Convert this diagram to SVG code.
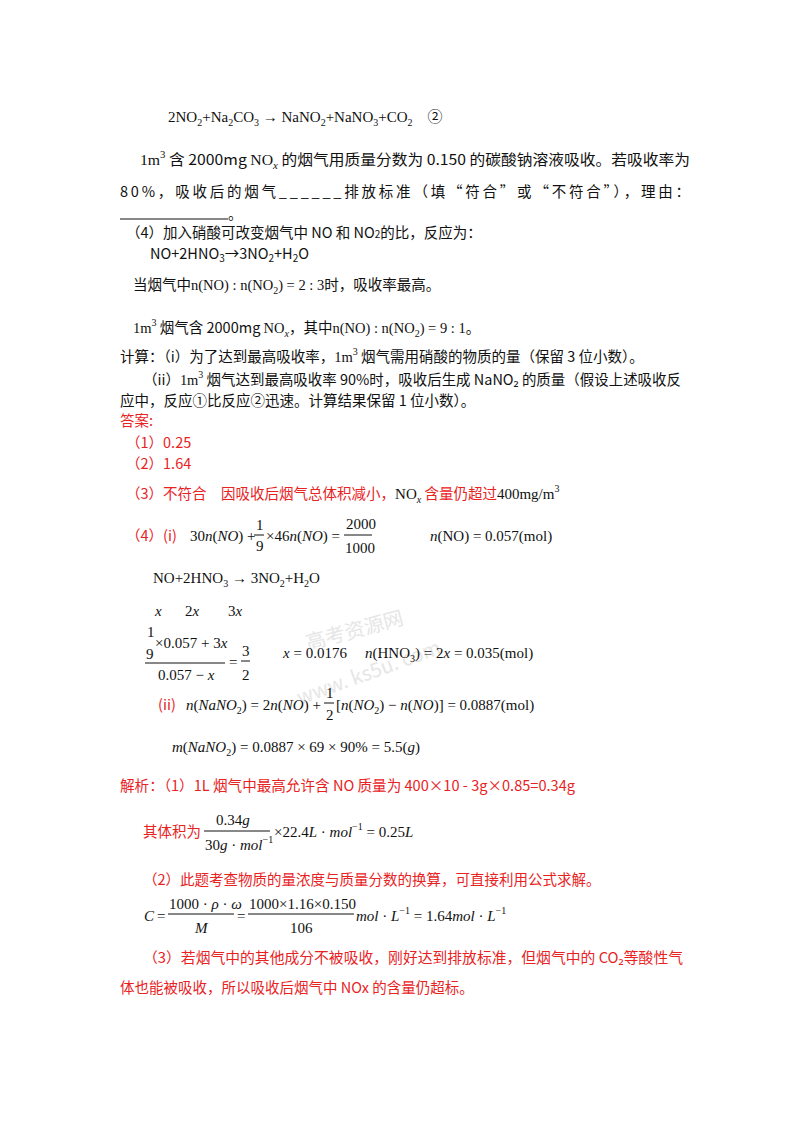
<svg xmlns="http://www.w3.org/2000/svg" width="800" height="1132" viewBox="0 0 800 1132">
<style>
.c{font-family:"Noto Sans CJK SC","Noto Sans",sans-serif;font-size:14.5px;fill:#111}
.r{font-family:"Noto Sans CJK SC","Noto Sans",sans-serif;font-size:14.5px;fill:#e8231f}
.m{font-family:"Liberation Serif",serif;font-size:15px;fill:#111}
.ms{font-family:"Liberation Serif",serif;fill:#111}
.i{font-style:italic}
.s{font-size:10px}
.w{font-family:"Noto Sans CJK SC",sans-serif;font-size:20px;fill:#e6e6e6}
line{stroke:#111;stroke-width:1}
</style>
<rect width="800" height="1132" fill="#fff"/>
<g id="watermark">
<text class="w" x="308" y="650" transform="rotate(-15 308 650)">高考资源网</text>
<text class="w" x="300" y="705" transform="rotate(-20 300 705)" font-family="Liberation Sans,sans-serif">www. ks5u. com</text>
</g>
<g id="question">
<text class="m" x="168" y="122">2NO<tspan class="s" dy="4">2</tspan><tspan dy="-4">+Na</tspan><tspan class="s" dy="4">2</tspan><tspan dy="-4">CO</tspan><tspan class="s" dy="4">3</tspan><tspan dy="-4"> → NaNO</tspan><tspan class="s" dy="4">2</tspan><tspan dy="-4">+NaNO</tspan><tspan class="s" dy="4">3</tspan><tspan dy="-4">+CO</tspan><tspan class="s" dy="4">2</tspan><tspan dy="-4" font-family="Noto Sans CJK SC,sans-serif">　②</tspan></text>
<text class="c" x="140" y="165" textLength="550" lengthAdjust="spacingAndGlyphs"><tspan class="ms">1m</tspan><tspan class="ms s" dy="-7">3</tspan><tspan dy="7"> 含 2000mg </tspan><tspan class="ms">NO</tspan><tspan class="ms s i" dy="4">x</tspan><tspan dy="-4"> 的烟气用质量分数为 0.150 的碳酸钠溶液吸收。若吸收率为</tspan></text>
<text class="c" x="120" y="197" textLength="570" lengthAdjust="spacing">80%，吸收后的烟气______排放标准（填“符合”或“不符合”），理由：</text>
<line x1="120" y1="219" x2="228" y2="219"/>
<text class="c" x="228" y="219">。</text>
<text class="c" x="126" y="238">（4）加入硝酸可改变烟气中 NO 和 NO<tspan class="s">2</tspan>的比，反应为：</text>
<text class="c" x="150" y="259">NO+2HNO<tspan class="s" dy="3">3</tspan><tspan dy="-3">→3NO</tspan><tspan class="s" dy="3">2</tspan><tspan dy="-3">+H</tspan><tspan class="s" dy="3">2</tspan><tspan dy="-3">O</tspan></text>
<text class="c" x="133" y="290">当烟气中<tspan class="ms">n(NO) : n(NO</tspan><tspan class="ms s" dy="4">2</tspan><tspan class="ms" dy="-4">) = 2 : 3</tspan>时，吸收率最高。</text>
<text class="c" x="133" y="333"><tspan class="ms">1m</tspan><tspan class="ms s" dy="-7">3</tspan><tspan dy="7"> 烟气含 2000mg </tspan><tspan class="ms">NO</tspan><tspan class="ms s i" dy="4">x</tspan><tspan dy="-4">，其中</tspan><tspan class="ms">n(NO) : n(NO</tspan><tspan class="ms s" dy="4">2</tspan><tspan class="ms" dy="-4">) = 9 : 1</tspan>。</text>
<text class="c" x="120" y="362">计算：（i）为了达到最高吸收率，<tspan class="ms">1m</tspan><tspan class="ms s" dy="-7">3</tspan><tspan dy="7"> 烟气需用硝酸的物质的量（保留 3 位小数）。</tspan></text>
<text class="c" x="143" y="385" textLength="538" lengthAdjust="spacingAndGlyphs">（ii）<tspan class="ms">1m</tspan><tspan class="ms s" dy="-7">3</tspan><tspan dy="7"> 烟气达到最高吸收率 90%时，吸收后生成 NaNO₂ 的质量（假设上述吸收反</tspan></text>
<text class="c" x="120" y="406">应中，反应①比反应②迅速。计算结果保留 1 位小数）。</text>
</g>
<g id="answer">
<text class="r" x="120" y="426">答案:</text>
<text class="r" x="126" y="448">（1）0.25</text>
<text class="r" x="126" y="469">（2）1.64</text>
<text class="r" x="126" y="499">（3）不符合　因吸收后烟气总体积减小，<tspan class="ms" font-size="15">NO</tspan><tspan class="ms s i" dy="4">x</tspan><tspan dy="-4"> 含量仍超过</tspan><tspan class="ms" font-size="15">400mg/m</tspan><tspan class="ms s" dy="-7">3</tspan></text>
<text class="r" x="126" y="541">（4）</text>
<text class="r" x="163" y="541">(i)</text>
<text class="m" x="190" y="541">30<tspan class="i">n</tspan>(<tspan class="i">NO</tspan>) +</text>
<text class="m" x="256" y="530">1</text><line x1="254" y1="535" x2="264" y2="535"/><text class="m" x="256" y="551">9</text>
<text class="m" x="266" y="541">×46<tspan class="i">n</tspan>(<tspan class="i">NO</tspan>) =</text>
<text class="m" x="346" y="529">2000</text><line x1="344" y1="535" x2="372" y2="535"/><text class="m" x="345" y="553">1000</text>
<text class="m" x="430" y="541"><tspan class="i">n</tspan>(NO) = 0.057(mol)</text>
<text class="m" x="153" y="583">NO+2HNO<tspan class="s" dy="4">3</tspan><tspan dy="-4"> → 3NO</tspan><tspan class="s" dy="4">2</tspan><tspan dy="-4">+H</tspan><tspan class="s" dy="4">2</tspan><tspan dy="-4">O</tspan></text>
<text class="m i" x="155" y="616">x</text><text class="m" x="185" y="616">2<tspan class="i">x</tspan></text><text class="m" x="228" y="616">3<tspan class="i">x</tspan></text>
<text class="m" x="147" y="637">1</text>
<text class="m" x="155" y="648">×0.057 + 3<tspan class="i">x</tspan></text>
<text class="m" x="146" y="659">9</text>
<line x1="145" y1="663" x2="225" y2="663"/>
<text class="m" x="158" y="680">0.057 − <tspan class="i">x</tspan></text>
<text class="m" x="229" y="667">=</text>
<text class="m" x="242" y="656">3</text><line x1="241" y1="661" x2="250" y2="661"/><text class="m" x="242" y="680">2</text>
<text class="m" x="283" y="658"><tspan class="i">x</tspan> = 0.0176</text>
<text class="m" x="365" y="658"><tspan class="i">n</tspan>(HNO<tspan class="s" dy="4">3</tspan><tspan dy="-4">) = 2</tspan><tspan class="i">x</tspan> = 0.035(mol)</text>
<text class="r" x="158" y="710">(ii)</text>
<text class="m" x="186" y="710"><tspan class="i">n</tspan>(<tspan class="i">NaNO</tspan><tspan class="s" dy="4">2</tspan><tspan dy="-4">) = 2</tspan><tspan class="i">n</tspan>(<tspan class="i">NO</tspan>) +</text>
<text class="m" x="326" y="698">1</text><line x1="324" y1="703" x2="334" y2="703"/><text class="m" x="326" y="720">2</text>
<text class="m" x="336" y="710">[<tspan class="i">n</tspan>(<tspan class="i">NO</tspan><tspan class="s" dy="4">2</tspan><tspan dy="-4">) − </tspan><tspan class="i">n</tspan>(<tspan class="i">NO</tspan>)] = 0.0887(mol)</text>
<text class="m" x="172" y="752"><tspan class="i">m</tspan>(<tspan class="i">NaNO</tspan><tspan class="s" dy="4">2</tspan><tspan dy="-4">) = 0.0887 × 69 × 90% = 5.5(</tspan><tspan class="i">g</tspan>)</text>
</g>
<g id="analysis">
<text class="r" x="120" y="791" textLength="455" lengthAdjust="spacingAndGlyphs">解析：（1）1L 烟气中最高允许含 NO 质量为 400×10 - 3g×0.85=0.34g</text>
<text class="r" x="143" y="837">其体积为</text>
<text class="m" x="216" y="825">0.34<tspan class="i">g</tspan></text>
<line x1="204" y1="831" x2="270" y2="831"/>
<text class="m" x="205" y="850">30<tspan class="i">g</tspan> · <tspan class="i">mol</tspan><tspan class="s" dy="-7">−1</tspan></text>
<text class="m" x="274" y="837">×22.4<tspan class="i">L</tspan> · <tspan class="i">mol</tspan><tspan class="s" dy="-7">−1</tspan><tspan dy="7"> = 0.25</tspan><tspan class="i">L</tspan></text>
<text class="r" x="143" y="885">（2）此题考查物质的量浓度与质量分数的换算，可直接利用公式求解。</text>
<text class="m i" x="144" y="921">C</text>
<text class="m" x="157" y="921">=</text>
<text class="m" x="169" y="909">1000 · <tspan class="i">ρ</tspan> · <tspan class="i">ω</tspan></text>
<line x1="168" y1="914" x2="234" y2="914"/>
<text class="m i" x="195" y="933">M</text>
<text class="m" x="237" y="921">=</text>
<text class="m" x="249" y="909">1000×1.16×0.150</text>
<line x1="248" y1="914" x2="354" y2="914"/>
<text class="m" x="290" y="933">106</text>
<text class="m" x="356" y="921"><tspan class="i">mol</tspan> · <tspan class="i">L</tspan><tspan class="s" dy="-7">−1</tspan><tspan dy="7"> = 1.64</tspan><tspan class="i">mol</tspan> · <tspan class="i">L</tspan><tspan class="s" dy="-7">−1</tspan></text>
<text class="r" x="143" y="963" textLength="540" lengthAdjust="spacingAndGlyphs">（3）若烟气中的其他成分不被吸收，刚好达到排放标准，但烟气中的 CO₂等酸性气</text>
<text class="r" x="120" y="993">体也能被吸收，所以吸收后烟气中 NOx 的含量仍超标。</text>
</g>
</svg>
